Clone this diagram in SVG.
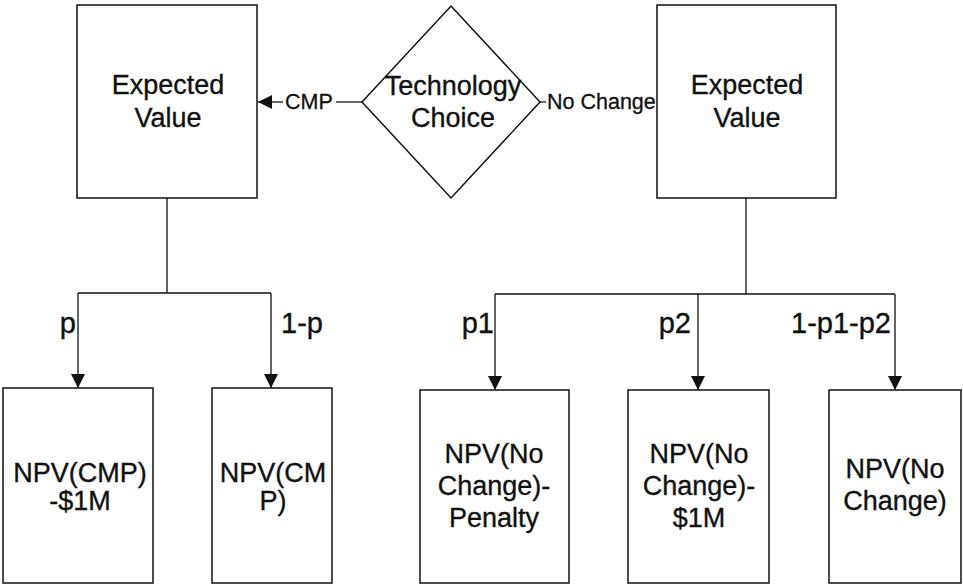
<svg xmlns="http://www.w3.org/2000/svg" width="963" height="584" viewBox="0 0 963 584">
<style>
.box{fill:#fff;stroke:#111;stroke-width:1.5}
.ln{fill:none;stroke:#111;stroke-width:1.3}
.big{font-family:"Liberation Sans",Arial,sans-serif;font-size:27px;fill:#111;stroke:#111;stroke-width:0.35;text-anchor:middle}
.lbl{font-family:"Liberation Sans",Arial,sans-serif;font-size:29px;fill:#111;stroke:#111;stroke-width:0.35}
.sm{font-family:"Liberation Sans",Arial,sans-serif;font-size:21.5px;fill:#111;stroke:#111;stroke-width:0.3}
</style>
<defs>
<marker id="ah" markerUnits="userSpaceOnUse" markerWidth="14" markerHeight="14" viewBox="0 0 14 14" refX="14" refY="7" orient="auto">
<path d="M0,0 L14,7 L0,14 Z" fill="#111"/>
</marker>
</defs>
<rect width="963" height="584" fill="#fff"/>
<g id="connectors">
<line class="ln" x1="362" y1="102" x2="336" y2="102"/>
<line class="ln" x1="283" y1="102" x2="258" y2="102" marker-end="url(#ah)"/>
<line class="ln" x1="540" y1="102" x2="546" y2="102"/>
<path class="ln" d="M167,198 V293 M78,293 H271"/>
<line class="ln" x1="78" y1="293" x2="78" y2="388" marker-end="url(#ah)"/>
<line class="ln" x1="271" y1="293" x2="271" y2="388" marker-end="url(#ah)"/>
<path class="ln" d="M746,198 V294 M495,294 H895"/>
<line class="ln" x1="495" y1="294" x2="495" y2="390" marker-end="url(#ah)"/>
<line class="ln" x1="698" y1="294" x2="698" y2="390" marker-end="url(#ah)"/>
<line class="ln" x1="895" y1="294" x2="895" y2="390" marker-end="url(#ah)"/>
<text class="sm" x="285" y="109">CMP</text>
<text class="sm" x="547" y="109">No Change</text>
<text class="lbl" x="76" y="333" text-anchor="end">p</text>
<text class="lbl" x="281" y="333">1-p</text>
<text class="lbl" x="494" y="333" text-anchor="end">p1</text>
<text class="lbl" x="691" y="333" text-anchor="end">p2</text>
<text class="lbl" x="891" y="333" text-anchor="end">1-p1-p2</text>
</g>
<g id="ev-left">
<rect class="box" x="77" y="5" width="180" height="193"/>
<text class="big" x="168" y="94">Expected</text>
<text class="big" x="168" y="127">Value</text>
</g>
<g id="tech-choice">
<polygon class="box" points="451,6 540,102 451,198 362,102" style="fill:none"/>
<text class="big" x="453" y="95">Technology</text>
<text class="big" x="453" y="127">Choice</text>
</g>
<g id="ev-right">
<rect class="box" x="657" y="5" width="179" height="193"/>
<text class="big" x="747" y="94">Expected</text>
<text class="big" x="747" y="127">Value</text>
</g>
<g id="npv-cmp-1m">
<rect class="box" x="3" y="388" width="150" height="195"/>
<text class="big" x="80" y="482">NPV(CMP)</text>
<text class="big" x="80" y="510">-$1M</text>
</g>
<g id="npv-cmp">
<rect class="box" x="212" y="388" width="120" height="195"/>
<text class="big" x="273" y="482">NPV(CM</text>
<text class="big" x="273" y="510">P)</text>
</g>
<g id="npv-nc-penalty">
<rect class="box" x="420" y="390" width="149" height="193"/>
<text class="big" x="494" y="463">NPV(No</text>
<text class="big" x="494" y="495">Change)-</text>
<text class="big" x="494" y="527">Penalty</text>
</g>
<g id="npv-nc-1m">
<rect class="box" x="628" y="390" width="141" height="193"/>
<text class="big" x="699" y="463">NPV(No</text>
<text class="big" x="699" y="495">Change)-</text>
<text class="big" x="699" y="527">$1M</text>
</g>
<g id="npv-nc">
<rect class="box" x="829" y="390" width="132" height="193"/>
<text class="big" x="895" y="478">NPV(No</text>
<text class="big" x="895" y="510">Change)</text>
</g>
</svg>
